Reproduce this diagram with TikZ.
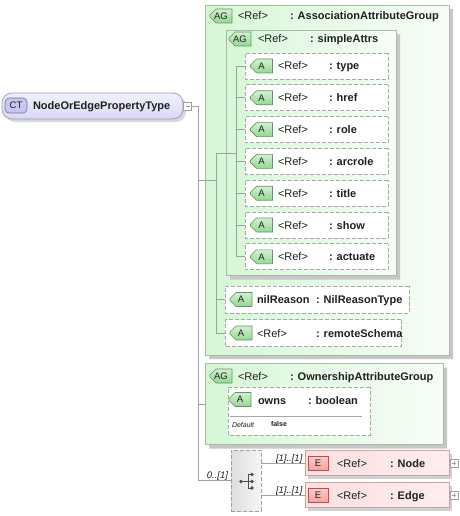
\documentclass[tikz,border=0pt]{standalone}
\usepackage{fontspec}
\setmainfont{Liberation Sans}
\usetikzlibrary{shapes.misc,shadows}

\definecolor{grpfill}{HTML}{D6F7D6}
\definecolor{grpline}{HTML}{A6BBA6}
\definecolor{attrline}{HTML}{A8A8A8}
\definecolor{badgefill}{HTML}{94D694}
\definecolor{badgeline}{HTML}{5A9A5A}
\definecolor{ctfill}{HTML}{D8D8F6}
\definecolor{ctline}{HTML}{9898BC}
\definecolor{ctbadgefill}{HTML}{C6C6EE}
\definecolor{ctbadgeline}{HTML}{6E6EB4}
\definecolor{elfill}{HTML}{FCDFDF}
\definecolor{elline}{HTML}{C4A4A4}
\definecolor{ebadgefill}{HTML}{F4A0A0}
\definecolor{ebadgeline}{HTML}{C24C4C}
\definecolor{wiregray}{HTML}{A0A0A0}
\definecolor{txt}{HTML}{202020}

\begin{document}
\begin{tikzpicture}[x=1pt, y=-1pt, font=\fontsize{11}{13}\selectfont,
		every node/.style={inner sep=0pt, outer sep=0pt, text=txt},
		wire/.style={draw=wiregray, line width=0.7pt},
		grpbox/.style={chamfered rectangle, chamfered rectangle corners={north west,south west},
			chamfered rectangle xsep=10pt, chamfered rectangle ysep=10pt, draw=grpline, line width=0.7pt,
			left color=grpfill, right color=grpfill!20,
			drop shadow={shadow xshift=4pt, shadow yshift=-4pt, fill=black!22, opacity=1}},
		attrbox/.style={chamfered rectangle, chamfered rectangle corners={north west,south west},
			chamfered rectangle xsep=8pt, chamfered rectangle ysep=8pt, draw=attrline, line width=0.7pt,
			dash pattern=on 4pt off 2pt, fill=white},
		badge/.style={chamfered rectangle, chamfered rectangle corners={north west,south west},
			chamfered rectangle xsep=3pt, chamfered rectangle ysep=3pt, draw=badgeline, line width=0.6pt,
			top color=badgefill!40, bottom color=badgefill, minimum width=22pt, minimum height=14pt,
			font=\fontsize{9.5}{10}\selectfont},
		ctbox/.style={rectangle, rounded corners=10pt, draw=ctline, line width=0.7pt,
			top color=ctfill!35, bottom color=ctfill,
			drop shadow={shadow xshift=3pt, shadow yshift=-3pt, fill=black!15, opacity=1}},
		ctbadge/.style={rectangle, rounded corners=4pt, draw=ctbadgeline, line width=0.6pt,
			fill=ctbadgefill, minimum width=22pt, minimum height=15pt, font=\fontsize{9.5}{10}\selectfont},
		elbox/.style={rectangle, draw=elline, line width=0.7pt, left color=elfill, right color=elfill!55,
			minimum width=144pt, minimum height=25pt,
			drop shadow={shadow xshift=3pt, shadow yshift=-3pt, fill=black!18, opacity=1}},
		ebadge/.style={rectangle, draw=ebadgeline, line width=0.6pt, top color=ebadgefill!55,
			bottom color=ebadgefill, minimum width=20pt, minimum height=14pt, font=\fontsize{9.5}{10}\selectfont},
		seqbox/.style={rectangle, draw=wiregray, line width=0.7pt, dash pattern=on 4pt off 2pt,
			left color=black!13, right color=black!4},
		tname/.style={anchor=base west, font=\fontsize{11}{13}\selectfont\bfseries},
		reftext/.style={anchor=base west},
		card/.style={anchor=base west, font=\fontsize{9.5}{11}\selectfont\itshape},
		plusbox/.style={rectangle, draw=wiregray, fill=white, line width=0.6pt, minimum size=8pt},
	]
	\useasboundingbox (0,0) rectangle (459,516);

	% Complex type
	\node[ctbox, minimum width=181pt, minimum height=26pt] (ct) at (92.5,106) {};
	\node[ctbadge] (ctbadge) at (16,105.5) {CT};
	\node[tname] (ctname) at (33,110) {NodeOrEdgePropertyType};
	\node[plusbox] (ctminus) at (187.5,106) {};
	\draw[wiregray, line width=0.6pt] ([xshift=2pt]ctminus.west) -- ([xshift=-2pt]ctminus.east);

	% Main trunk
	\coordinate (trunktop) at (198,106);
	\coordinate (trunkbot) at (198,480.5);
	\draw[wire] (ctminus.east) -- (trunktop) -- (trunkbot);

	% Association attribute group
	\node[grpbox, minimum width=244pt, minimum height=350pt] (assoc) at (327,180) {};
	\node[badge] (assocbadge) at (221,16) {AG};
	\node[reftext] (assocref) at (238,20) {<Ref>};
	\node[tname] (assocname) at (290,20) {: AssociationAttributeGroup};
	\coordinate (assoctrunk) at (216,180);
	\draw[wire] (assoc.west -| trunktop) -- (assoctrunk);

	% simpleAttrs group
	\node[grpbox, minimum width=170pt, minimum height=245pt] (simple) at (311,153) {};
	\node[badge] (simplebadge) at (240,39) {AG};
	\node[reftext] (simpleref) at (258,43) {<Ref>};
	\node[tname] (simplename) at (310,43) {: simpleAttrs};
	\coordinate (simpletrunk) at (236,153);
	\draw[wire] (simple.west -| assoctrunk) -- (simpletrunk);

	% The attributes of simpleAttrs
	\foreach \lbl [count=\i] in {type, href, role, arcrole, title, show, actuate} {
		\pgfmathsetmacro{\ya}{66+31.8*(\i-1)}
		\node[attrbox, minimum width=143pt, minimum height=26pt] (attr\i) at (316.5,\ya) {};
		\node[badge] (attrbadge\i) at (261.5,\ya) {A};
		\node[reftext] (attrref\i) at (278,\ya+4) {<Ref>};
		\node[tname] (attrname\i) at (329,\ya+4) {: \lbl};
		\draw[wire] (attr\i.west -| simpletrunk) -- (attr\i.west);
	}
	\draw[wire] (attr1.west -| simpletrunk) -- (attr7.west -| simpletrunk);

	% nilReason and remoteSchema
	\node[attrbox, minimum width=184pt, minimum height=27pt] (nilr) at (317,299.5) {};
	\node[badge] (nilrbadge) at (241,299.5) {A};
	\node[tname] (nilrname) at (257,303.5) {nilReason};
	\node[tname] (nilrtype) at (316,303.5) {: NilReasonType};
	\draw[wire] (nilr.west -| assoctrunk) -- (nilr.west);

	\node[attrbox, minimum width=176pt, minimum height=27pt] (rschema) at (313,333) {};
	\node[badge] (rschemabadge) at (241,333) {A};
	\node[reftext] (rschemaref) at (257,337) {<Ref>};
	\node[tname] (rschemaname) at (316,337) {: remoteSchema};
	\draw[wire] (rschema.west -| assoctrunk) -- (rschema.west);
	\draw[wire] (simple.west -| assoctrunk) -- (rschema.west -| assoctrunk);

	% Ownership attribute group
	\node[grpbox, minimum width=238pt, minimum height=81pt] (owner) at (324,404) {};
	\node[badge] (ownerbadge) at (221,376) {AG};
	\node[reftext] (ownerref) at (238,380) {<Ref>};
	\node[tname] (ownername) at (290,380) {: OwnershipAttributeGroup};
	\draw[wire] (owner.west -| trunktop) -- (owner.west);

	\node[attrbox, minimum width=142pt, minimum height=48pt] (owns) at (299,411) {};
	\node[badge] (ownsbadge) at (240,399.5) {A};
	\node[tname] (ownsname) at (258,404) {owns};
	\node[tname] (ownstype) at (308,404) {: boolean};
	\draw[attrline, line width=0.7pt] (230,416) -- (362,416);
	\node[anchor=base west, font=\fontsize{7}{8}\selectfont\itshape] (ownsdef) at (232,427) {Default};
	\node[anchor=base west, font=\fontsize{7}{8}\selectfont\bfseries] (ownsval) at (271,426) {false};

	% Sequence
	\node[seqbox, minimum width=30pt, minimum height=61pt] (seq) at (246,480.5) {};
	\draw[wire] (trunkbot) -- (seq.west);
	\node[card, anchor=base east] (seqcard) at (228,478) {0..[1]};
	\fill[black!70] (241,481.5) circle (1.8pt);
	\draw[black!70, line width=0.8pt] (241,481.5) -- (248,481.5) (248,474.5) -- (248,488) (248,474.5) -- (252,474.5)
		(248,481.5) -- (252,481.5) (248,488) -- (252,488);
	\foreach \yd in {474.5, 481.5, 488} \fill[black!70] (252,\yd) circle (1.8pt);

	% Elements
	\node[elbox] (elnode) at (377,463) {};
	\node[ebadge] (elnodebadge) at (318,463.5) {E};
	\node[reftext] (elnoderef) at (337,467.5) {<Ref>};
	\node[tname] (elnodename) at (390,467.5) {: Node};
	\draw[wire] (seq.east |- elnode.west) -- (elnode.west);
	\node[card] (elnodecard) at (276,461) {[1]..[1]};

	\node[elbox] (eledge) at (377,495) {};
	\node[ebadge] (eledgebadge) at (318,495.5) {E};
	\node[reftext] (eledgeref) at (337,499.5) {<Ref>};
	\node[tname] (eledgename) at (390,499.5) {: Edge};
	\draw[wire] (seq.east |- eledge.west) -- (eledge.west);
	\node[card] (eledgecard) at (276,493) {[1]..[1]};

	\foreach \el in {elnode, eledge} {
		\node[plusbox] (\el plus) at ([xshift=5pt]\el.east) {};
		\draw[wiregray, line width=0.6pt] ([xshift=2pt]\el plus.west) -- ([xshift=-2pt]\el plus.east)
			([yshift=2pt]\el plus.south) -- ([yshift=-2pt]\el plus.north);
	}

\end{tikzpicture}
\end{document}
